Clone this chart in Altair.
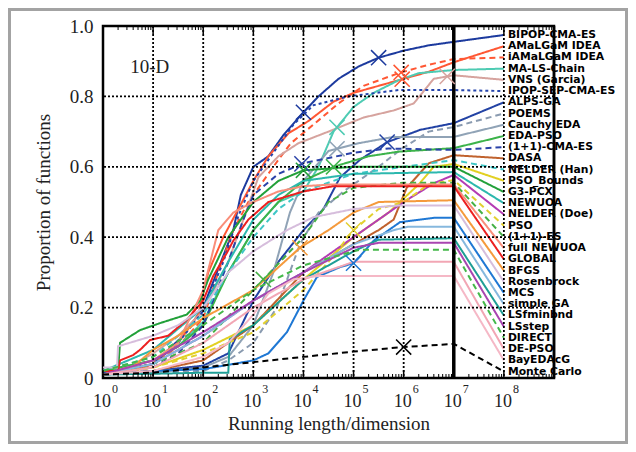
import altair as alt
import numpy as np
import pandas as pd

# ---------------- data (exponent of running length, proportion) ----------------
names = ["BIPOP-CMA-ES", "AMaLGaM IDEA", "iAMaLGaM IDEA", "MA-LS-Chain", "VNS (Garcia)",
         "IPOP-SEP-CMA-ES", "ALPS-GA", "POEMS", "Cauchy EDA", "EDA-PSO", "(1+1)-CMA-ES",
         "DASA", "NELDER (Han)", "PSO_Bounds", "G3-PCX", "NEWUOA", "NELDER (Doe)", "PSO",
         "(1+1)-ES", "full NEWUOA", "GLOBAL", "BFGS", "Rosenbrock", "MCS", "simple GA",
         "LSfminbnd", "LSstep", "DIRECT", "DE-PSO", "BayEDAcG", "Monte Carlo"]

colors = ["#1c3a9e", "#ff5733", "#ff5733", "#4ecbb3", "#d6a39e",
          "#2444ac", "#2242a4", "#8a9bb0", "#90a3b6", "#3cb34a", "#2a42a8",
          "#c0622e", "#3ec6c6", "#e2d022", "#22a039", "#2cb8ae", "#b43cb4", "#e2d030",
          "#45b045", "#f98e7a", "#ec2020", "#f59a3c", "#d6bddc", "#1f78d4", "#86b8de",
          "#1e9e96", "#a845b0", "#44b84a", "#f2a6b4", "#f5b8c6", "#000000"]

dash_style = ["solid", "solid", "dashed", "solid", "solid",
              "dotted", "solid", "dashed", "solid", "solid", "dashed",
              "solid", "dashed", "solid", "solid", "solid", "solid", "dashed",
              "dashed", "solid", "solid", "solid", "solid", "solid", "solid",
              "solid", "solid", "dashed", "solid", "solid", "dashed"]

bipop = [(0, 0.015), (0.5, 0.02), (1, 0.04), (1.3, 0.08), (1.6, 0.12), (2, 0.2), (2.3, 0.31), (2.6, 0.42),
         (2.75, 0.52), (3, 0.6), (3.3, 0.63), (3.6, 0.69), (4, 0.755), (4.3, 0.8), (4.7, 0.85), (5.1, 0.885),
         (5.5, 0.91), (6, 0.93), (6.5, 0.945), (7, 0.955)]
amalgam = [(0, 0.01), (0.5, 0.015), (1, 0.04), (1.5, 0.1), (1.9, 0.18), (2.1, 0.3), (2.4, 0.4), (2.7, 0.48),
           (3, 0.56), (3.3, 0.63), (3.7, 0.695), (4.1, 0.73), (4.6, 0.785), (5, 0.81), (5.5, 0.83), (6, 0.85),
           (6.5, 0.87), (7, 0.897)]
iamalgam = [(0, 0.01), (0.5, 0.015), (1, 0.04), (1.5, 0.09), (2, 0.17), (2.3, 0.3), (2.6, 0.42), (2.9, 0.5),
            (3.2, 0.56), (3.5, 0.62), (3.75, 0.667), (4.2, 0.72), (4.7, 0.78), (5.2, 0.83), (5.9, 0.866),
            (6.5, 0.89), (7, 0.906)]
malschain = [(0, 0.02), (1, 0.05), (1.5, 0.09), (2, 0.16), (2.5, 0.3), (3, 0.42), (3.5, 0.5), (4, 0.53),
             (4.3, 0.6), (4.6, 0.7), (5, 0.77), (5.4, 0.81), (5.9, 0.846), (6.3, 0.866), (7, 0.875)]
vns = [(0, 0.02), (0.5, 0.03), (1, 0.07), (1.5, 0.12), (2, 0.19), (2.5, 0.33), (2.8, 0.45), (3.1, 0.57),
       (3.5, 0.63), (3.9, 0.667), (4.5, 0.7), (5.2, 0.74), (5.8, 0.76), (6.2, 0.78), (6.6, 0.85), (7, 0.86)]
ipopsep = [(0, 0.015), (1, 0.04), (1.5, 0.1), (2, 0.19), (2.4, 0.33), (2.7, 0.46), (3, 0.56), (3.4, 0.64),
           (3.8, 0.72), (4.2, 0.775), (4.9, 0.8), (5.9, 0.818), (7, 0.818)]
alps = [(0, 0.01), (1, 0.02), (2, 0.035), (2.5, 0.07), (3, 0.22), (3.5, 0.33), (4, 0.42), (4.4, 0.48),
        (4.73, 0.57), (5.13, 0.62), (5.67, 0.67), (6.33, 0.705), (7, 0.724)]
poems = [(0, 0.01), (1, 0.015), (2, 0.02), (2.5, 0.05), (3, 0.1), (3.47, 0.2), (3.93, 0.38), (4.3, 0.47),
         (4.8, 0.53), (5.5, 0.6), (5.93, 0.648), (6.5, 0.7), (7, 0.713)]
cauchy = [(0, 0.01), (1, 0.015), (2, 0.03), (2.5, 0.06), (3, 0.15), (3.4, 0.3), (3.73, 0.47), (4, 0.56),
          (4.5, 0.645), (5.1, 0.667), (5.8, 0.685), (7, 0.685)]
edapso = [(0, 0.02), (1, 0.05), (1.5, 0.09), (2, 0.15), (2.5, 0.3), (3, 0.42), (3.5, 0.5), (4, 0.56),
          (4.6, 0.6), (5.3, 0.63), (5.9, 0.643), (7, 0.653)]
cma11 = [(0, 0.01), (1, 0.03), (1.5, 0.07), (2, 0.15), (2.5, 0.33), (2.8, 0.45), (3, 0.52), (3.5, 0.58),
         (4, 0.61), (5, 0.64), (5.7, 0.652), (7, 0.648)]
dasa = [(0, 0.01), (1, 0.02), (2, 0.05), (3, 0.15), (4, 0.3), (5, 0.38), (5.5, 0.42), (5.8, 0.45),
        (6.06, 0.54), (6.5, 0.61), (7, 0.633)]
nelderhan = [(0, 0.02), (1, 0.06), (2, 0.18), (2.5, 0.3), (3, 0.4), (3.5, 0.48), (4, 0.53), (5, 0.58),
             (6, 0.6), (7, 0.619)]
psobounds = [(0, 0.01), (1, 0.03), (2, 0.08), (3, 0.15), (4, 0.28), (5, 0.4), (5.7, 0.47), (6.3, 0.55),
             (6.6, 0.6), (7, 0.608)]
g3pcx = [(0, 0.02), (0.3, 0.02), (0.34, 0.1), (0.74, 0.136), (1.14, 0.156), (1.67, 0.18), (1.94, 0.22),
         (2.1, 0.28), (2.5, 0.4), (3, 0.5), (3.5, 0.56), (4, 0.59), (5, 0.6), (7, 0.6)]
newuoa = [(0, 0.02), (1, 0.08), (2, 0.2), (2.5, 0.33), (3, 0.45), (3.5, 0.52), (4, 0.56), (5, 0.58),
          (7, 0.585)]
nelderdoe = [(0, 0.01), (1, 0.04), (2, 0.12), (3, 0.22), (4, 0.3), (5, 0.4), (6, 0.5), (6.6, 0.553),
             (7, 0.577)]
pso = [(0, 0.01), (1, 0.03), (2, 0.07), (3, 0.13), (4, 0.25), (4.5, 0.33), (5, 0.42), (5.5, 0.48),
       (6, 0.5), (6.5, 0.55), (7, 0.5625)]
es11 = [(0, 0.01), (1, 0.04), (2, 0.1), (3, 0.25), (4, 0.4), (4.5, 0.5), (5, 0.54), (6, 0.555), (7, 0.555)]
fullnewuoa = [(0, 0.01), (1, 0.05), (1.5, 0.1), (2, 0.25), (2.3, 0.42), (2.6, 0.47), (3, 0.5), (3.5, 0.53),
              (4, 0.545), (4.6, 0.55), (7, 0.55)]
globalopt = [(0, 0.02), (0.3, 0.02), (0.34, 0.05), (0.6, 0.065), (0.74, 0.08), (0.94, 0.108), (1.3, 0.12),
             (1.67, 0.165), (2, 0.22), (2.2, 0.29), (2.47, 0.355), (2.6, 0.39), (2.9, 0.45), (3.3, 0.5),
             (4, 0.53), (4.6, 0.545), (7, 0.545)]
bfgs = [(0, 0.01), (0.5, 0.02), (1, 0.08), (1.5, 0.12), (2, 0.17), (3, 0.25), (3.93, 0.37), (4.5, 0.42),
        (5, 0.47), (5.5, 0.5), (7, 0.505)]
rosenbrock = [(0, 0.03), (0.28, 0.03), (0.3, 0.09), (1, 0.12), (1.5, 0.15), (2, 0.2), (2.5, 0.3), (3, 0.36),
              (3.67, 0.42), (4.2, 0.457), (5, 0.48), (5.9, 0.49), (7, 0.49)]
mcs = [(0, 0.01), (1, 0.02), (2, 0.025), (2.6, 0.04), (3, 0.05), (3.3, 0.07), (3.67, 0.13), (4, 0.22),
       (4.27, 0.287), (4.73, 0.315), (5, 0.326), (5.4, 0.39), (5.93, 0.443), (6.6, 0.455), (7, 0.455)]
simplega = [(0, 0.01), (1, 0.04), (2, 0.12), (3, 0.22), (4, 0.3), (5, 0.38), (5.8, 0.42), (6.1, 0.43),
            (7, 0.43)]
lsfminbnd = [(0, 0.01), (1, 0.012), (2, 0.015), (2.5, 0.015), (2.53, 0.11), (3, 0.15), (4, 0.28), (5, 0.36),
             (5.5, 0.393), (7, 0.397)]
lsstep = [(0, 0.01), (1, 0.05), (2, 0.13), (3, 0.22), (4, 0.3), (5, 0.37), (5.5, 0.384), (7, 0.384)]
direct = [(0, 0.02), (1, 0.06), (2, 0.15), (3, 0.25), (4, 0.32), (5, 0.36), (5.13, 0.364), (7, 0.364)]
depso = [(0, 0.01), (1, 0.03), (2, 0.1), (3, 0.2), (4, 0.28), (5, 0.33), (7, 0.33)]
bayedacg = [(0, 0.01), (1, 0.02), (2, 0.06), (2.5, 0.1), (3, 0.18), (3.3, 0.24), (3.8, 0.28), (4.3, 0.29),
            (7, 0.29)]
montecarlo = [(0, 0.01), (1, 0.015), (2, 0.03), (3, 0.045), (4, 0.06), (5, 0.075), (6, 0.088), (7, 0.097)]

curves = [bipop, amalgam, iamalgam, malschain, vns, ipopsep, alps, poems, cauchy, edapso, cma11, dasa,
          nelderhan, psobounds, g3pcx, newuoa, nelderdoe, pso, es11, fullnewuoa, globalopt, bfgs,
          rosenbrock, mcs, simplega, lsfminbnd, lsstep, direct, depso, bayedacg, montecarlo]

# marker (x) positions: algorithm index, exponent
marker_algo = [0, 0, 1, 2, 3, 4, 10, 8, 6, 14, 21, 18, 23, 30, 17, 9]
marker_exp = [4.0, 5.5, 5.97, 5.95, 4.67, 6.87, 3.97, 4.67, 5.67, 4.0, 3.93, 3.2, 5.0, 6.0, 5.0, 4.6]

decades = list(range(0, 9))
grid_y = [0.2, 0.4, 0.6, 0.8]
y_ticks = [0, 0.2, 0.4, 0.6, 0.8, 1.0]

# legend end positions at 10^8, evenly spread
label_y = np.linspace(0.9745, 0.0184, len(names))

# ---------------- build tables ----------------
rows = []
for i, (nm, pts) in enumerate(zip(names, curves)):
    k = 0
    for e, v in pts:
        rows.append({"algo": nm, "x": 10 ** e, "y": v, "k": k})
        k += 1
    rows.append({"algo": nm, "x": 1e8, "y": float(label_y[i]), "k": k})
df = pd.DataFrame(rows)

mk = []
for a, e in zip(marker_algo, marker_exp):
    pts = curves[a]
    yv = np.interp(e, [p[0] for p in pts], [p[1] for p in pts])
    mk.append({"algo": names[a], "x": 10 ** e, "y": float(yv)})
mdf = pd.DataFrame(mk)

ldf = pd.DataFrame({"algo": names, "x": [1e8] * len(names), "y": label_y})

dash_map = {"solid": [1, 0], "dashed": [6, 4], "dotted": [3, 3]}
dash_range = [dash_map[d] for d in dash_style]
width_range = [3 if d == "dotted" else 2 for d in dash_style]

W, H = 451, 352
xs = alt.Scale(type="log", domain=[1, 1e9], nice=False)
ys_ = alt.Scale(domain=[0, 1], nice=False)
serif = "Liberation Serif"
ink = "#222222"

xax = alt.Axis(values=[1], labels=False, ticks=False, domain=False, grid=False,
               title="Running length/dimension", titleFont=serif, titleFontSize=19,
               titleFontWeight="normal", titleColor=ink, titlePadding=36)
yax = alt.Axis(values=y_ticks, labelExpr="datum.value == 0 ? '0' : format(datum.value, '.1f')",
               ticks=False, domain=False, grid=False, labelFont=serif, labelFontSize=19,
               labelColor=ink, labelPadding=10, title="Proportion of functions", titleFont=serif,
               titleFontSize=19, titleFontWeight="normal", titleColor=ink, titlePadding=16)


def X(field="x"):
    return alt.X(f"{field}:Q", scale=xs, axis=xax, title="Running length/dimension")


def Y(field="y"):
    return alt.Y(f"{field}:Q", scale=ys_, axis=yax, title="Proportion of functions")


frame = alt.Chart(pd.DataFrame({"a": [0]})).mark_rect(
    fill="transparent", stroke="#a3a3a3", strokeWidth=4, clip=False
).encode(x=alt.value(-94), x2=alt.value(W + 73), y=alt.value(-17), y2=alt.value(H + 65))

gx = alt.Chart(pd.DataFrame({"x": [10.0 ** d for d in decades[1:]]})).mark_rule(
    color="black", strokeWidth=1.8, strokeDash=[2, 2]
).encode(x=X())

gy = alt.Chart(pd.DataFrame({"y": grid_y})).mark_rule(
    color="black", strokeWidth=1.8, strokeDash=[2, 2]
).encode(y=Y())

minor = [10 ** (d + np.log10(m)) for d in range(0, 9) for m in range(2, 10)]
mt_b = alt.Chart(pd.DataFrame({"x": minor})).mark_rule(color="black", strokeWidth=1).encode(
    x=X(), y=alt.value(H), y2=alt.value(H - 4))
mt_t = alt.Chart(pd.DataFrame({"x": minor})).mark_rule(color="black", strokeWidth=1).encode(
    x=X(), y=alt.value(0), y2=alt.value(4))
major = pd.DataFrame({"x": [10.0 ** d for d in decades]})
Mt_b = alt.Chart(major).mark_rule(color="black", strokeWidth=1.5).encode(
    x=X(), y=alt.value(H), y2=alt.value(H - 8))
Mt_t = alt.Chart(major).mark_rule(color="black", strokeWidth=1.5).encode(
    x=X(), y=alt.value(0), y2=alt.value(8))

lines = alt.Chart(df).mark_line(clip=False, strokeCap="butt").encode(
    x=X(), y=Y(),
    color=alt.Color("algo:N", scale=alt.Scale(domain=names, range=colors), legend=None),
    strokeDash=alt.StrokeDash("algo:N", scale=alt.Scale(domain=names, range=dash_range), legend=None),
    strokeWidth=alt.StrokeWidth("algo:N", scale=alt.Scale(domain=names, range=width_range), legend=None),
    order="k:Q",
    detail="algo:N",
)

thick = alt.Chart(pd.DataFrame({"x": [1e7]})).mark_rule(color="black", strokeWidth=3.5).encode(x=X())

markers = alt.Chart(mdf).mark_point(
    shape="M-1,-1L1,1M-1,1L1,-1", filled=False, size=230, strokeWidth=1.5, opacity=1
).encode(
    x=X(), y=Y(),
    color=alt.Color("algo:N", scale=alt.Scale(domain=names, range=colors), legend=None),
)

labels = alt.Chart(ldf).mark_text(
    align="left", baseline="middle", dx=4, font="DejaVu Sans", fontSize=10.8, fontWeight="bold",
    color="black", clip=False
).encode(x=X(), y=Y(), text="algo:N")

right_edge = alt.Chart(pd.DataFrame({"x": [1e9]})).mark_rule(color="black", strokeWidth=2.5).encode(x=X())

tdf = pd.DataFrame({"x": [10.0 ** d for d in decades], "base": ["10"] * len(decades),
                    "exp": [str(d) for d in decades]})
tick_base = alt.Chart(tdf).mark_text(
    align="center", baseline="alphabetic", dx=-1, font=serif, fontSize=18, color=ink
).encode(x=X(), y=alt.value(H + 29), text="base:N")
tick_exp = alt.Chart(tdf).mark_text(
    align="left", baseline="alphabetic", dx=9, font=serif, fontSize=12, color=ink
).encode(x=X(), y=alt.value(H + 15), text="exp:N")

dim = alt.Chart(pd.DataFrame({"x": [3.5], "y": [0.866], "t": ["10-D"]})).mark_text(
    align="left", baseline="alphabetic", font=serif, fontSize=19, color=ink
).encode(x=X(), y=Y(), text="t:N")

chart = alt.layer(
    frame, lines, gx, gy, mt_b, mt_t, Mt_b, Mt_t, thick, markers, labels, right_edge,
    tick_base, tick_exp, dim
).properties(
    width=W, height=H,
    padding={"left": 95, "top": 18, "right": 74, "bottom": 66},
    autosize=alt.AutoSizeParams(type="none"),
    background="white",
).configure_view(stroke="black", strokeWidth=2.5)

chart.save("out.html", embed_options={"renderer": "svg", "actions": False})
